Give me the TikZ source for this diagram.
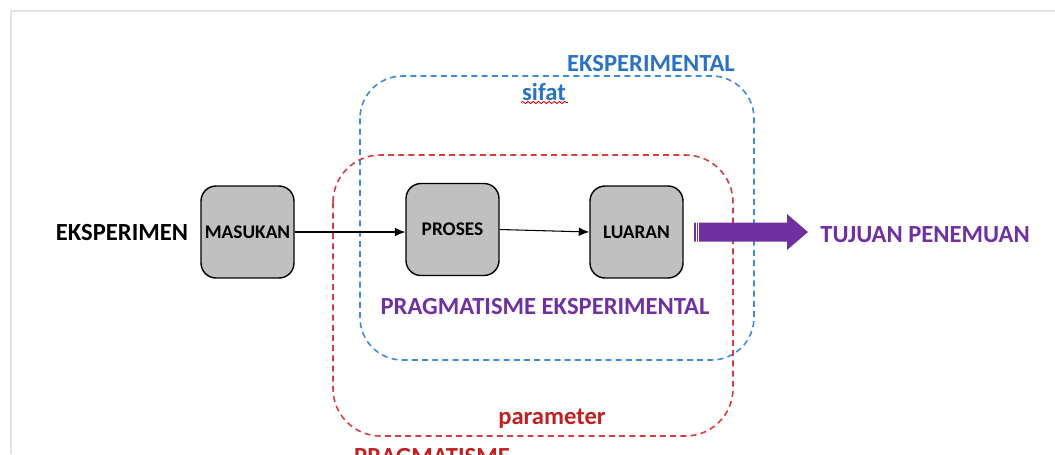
\documentclass[tikz,border=0pt]{standalone}
\usepackage{fontspec}
\setmainfont{Carlito}
\usetikzlibrary{arrows.meta,decorations.pathmorphing}

\definecolor{ekblue}{HTML}{2A72C4}
\definecolor{ekbluedash}{HTML}{3D8BD8}
\definecolor{pgred}{HTML}{C0201F}
\definecolor{pgreddash}{HTML}{D93A3C}
\definecolor{tjpurple}{HTML}{7030A0}
\definecolor{boxgray}{HTML}{C0C0C0}
\definecolor{framegray}{HTML}{E2E2E2}

\tikzset{
  inbox/.style={draw=black,thick,fill=boxgray,rounded corners=0.3cm,
    minimum width=1.86cm,minimum height=1.84cm,inner sep=1pt,
    font=\fontsize{11}{13}\selectfont\bfseries},
  bigtext/.style={font=\fontsize{14}{16}\selectfont\bfseries},
  dashline/.style={line width=0.9pt,dash pattern=on 3.4pt off 2.4pt},
  flow/.style={-{Latex[length=6pt,width=5pt]},line width=0.6pt}
}

\begin{document}
\begin{tikzpicture}[x=0.02cm,y=-0.02cm]
\useasboundingbox (0,0) rectangle (1055,454);
%\draw[step=50,gray,very thin] (0,0) grid (1055,454); %background grid

% frame of the slide
\draw[framegray,line width=0.8pt] (11,454) -- (11,11) -- (1055,11);

% dashed regions
\draw[ekbluedash,dashline,rounded corners=0.85cm] (360,76) rectangle (754,360);
\draw[pgreddash,dashline,rounded corners=0.95cm] (333,155) rectangle (733,436);

% boxes
\node[inbox] (masukan) at (247.5,232) {MASUKAN};
\node[inbox] (proses)  at (452.5,229.5) {PROSES};
\node[inbox] (luaran)  at (636.5,232) {LUARAN};

\draw[flow] (masukan.east) -- (masukan.east -| proses.west);
\draw[flow] (proses.east) -- (luaran.west);

% big purple arrow
\coordinate (tail) at (694,232);
\coordinate (tip) at (808,232);
\fill[tjpurple] (tail) ++(0,-9.5) -- ++(93,0) -- ++(0,-8.5) -- (tip)
  -- ++(-21,18) -- ++(0,-8.5) -- ++(-93,0) -- cycle;
\draw[white,line width=0.5pt] (696.3,221) -- (696.3,243);
\draw[white,line width=0.5pt] (698.7,221) -- (698.7,243);

% labels
\node[bigtext] (eksperimen) at (122,233) {EKSPERIMEN};
\node[bigtext,tjpurple] (tujuan) at (925,235) {TUJUAN PENEMUAN};
\node[bigtext,ekblue] (eksperimental) at (651,64) {EKSPERIMENTAL};
\node[bigtext,ekblue] (sifat) at (544,92) {sifat};
\draw[red!85!black,line width=0.5pt,decorate,
  decoration={snake,amplitude=0.6pt,segment length=3pt}] (521,102.5) -- (568,102.5);
\node[bigtext,tjpurple] (pragek) at (545,307) {PRAGMATISME EKSPERIMENTAL};
\node[bigtext,pgred] (parameter) at (552,419) {parameter};
\node[bigtext,pgred,anchor=base] (pragmatisme) at (432,464) {PRAGMATISME};
\end{tikzpicture}
\end{document}
